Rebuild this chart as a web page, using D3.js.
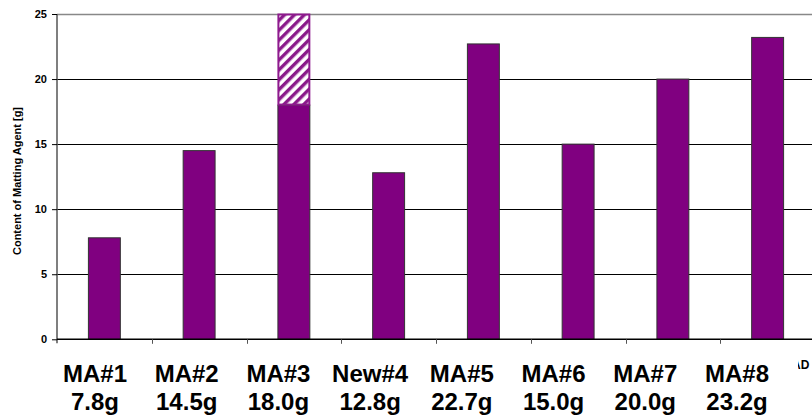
<!DOCTYPE html>
<html>
<head>
<meta charset="utf-8">
<script src="https://cdn.jsdelivr.net/npm/d3@7"></script>
<style>
  html, body { margin: 0; padding: 0; background: #fff; }
  svg { display: block; font-family: Arial, "Liberation Sans", sans-serif; }
</style>
</head>
<body>
<svg id="chart" width="812" height="416"></svg>
<script>
// Matting agent content per sample
const categories = ["MA#1", "MA#2", "MA#3", "New#4", "MA#5", "MA#6", "MA#7", "MA#8"];
const contents = [7.8, 14.5, 18.0, 12.8, 22.7, 15.0, 20.0, 23.2];
// Extra amount beyond the measured value, drawn hatched on top (MA#3 only)
const extraTop = [0, 0, 25, 0, 0, 0, 0, 0];
const amountLabels = ["7.8g", "14.5g", "18.0g", "12.8g", "22.7g", "15.0g", "20.0g", "23.2g"];
const yTicks = [0, 5, 10, 15, 20, 25];
const yTitle = "Content of Matting Agent [g]";

const svg = d3.select("#chart");
const purple = "#800080";

const plot = { left: 57, right: 815, top: 14, bottom: 339.3 };

const x = d3.scaleBand().domain(categories).range([plot.left, plot.right]).padding(0);
const y = d3.scaleLinear().domain([0, 25]).range([plot.bottom, plot.top]);
const barW = x.bandwidth() * 0.337;

// Diagonal hatch pattern for the extra segment
const defs = svg.append("defs");
const pat = defs.append("pattern")
  .attr("id", "hatch")
  .attr("patternUnits", "userSpaceOnUse")
  .attr("width", 7).attr("height", 7)
  .attr("patternTransform", "rotate(45)");
pat.append("rect").attr("width", 7).attr("height", 7).attr("fill", "#fff");
pat.append("rect").attr("width", 3.4).attr("height", 7).attr("fill", "#8a1a8a");

defs.append("clipPath").attr("id", "rightClip")
  .append("rect").attr("x", 798).attr("y", 340).attr("width", 40).attr("height", 40);

// Gridlines
svg.append("g")
  .selectAll("line")
  .data(yTicks.filter(d => d > 0))
  .join("line")
  .attr("x1", plot.left).attr("x2", plot.right)
  .attr("y1", d => Math.round(y(d)) + 0.5).attr("y2", d => Math.round(y(d)) + 0.5)
  .attr("stroke", d => d === 25 ? "#888" : "#000")
  .attr("stroke-width", d => d === 25 ? 1.5 : 1);

// Bars
svg.append("g")
  .selectAll("rect")
  .data(categories)
  .join("rect")
  .attr("x", (d) => x(d) + (x.bandwidth() - barW) / 2)
  .attr("y", (d, i) => y(contents[i]))
  .attr("width", barW)
  .attr("height", (d, i) => y(0) - y(contents[i]))
  .attr("fill", purple)
  .attr("stroke", "#333")
  .attr("stroke-width", 1);

// Hatched extra segments
svg.append("g")
  .selectAll("rect")
  .data(categories.filter((d, i) => extraTop[i] > 0))
  .join("rect")
  .attr("x", d => x(d) + (x.bandwidth() - barW) / 2 + 0.5)
  .attr("y", d => y(extraTop[categories.indexOf(d)]) + 0.5)
  .attr("width", barW - 1)
  .attr("height", d => y(contents[categories.indexOf(d)]) - y(extraTop[categories.indexOf(d)]) - 1)
  .attr("fill", "url(#hatch)")
  .attr("stroke", "#8e1a8e")
  .attr("stroke-width", 2);

// Y axis
const yAxis = svg.append("g")
  .attr("transform", `translate(${plot.left},0)`)
  .call(d3.axisLeft(y).tickValues(yTicks).tickSize(5).tickSizeOuter(0).tickPadding(5));
yAxis.select(".domain").attr("stroke", "#555").attr("stroke-width", 1.5)
  .attr("d", `M0,${plot.top}V${plot.bottom + 4}`);
yAxis.selectAll(".tick line").attr("stroke", "#000");
yAxis.selectAll(".tick text")
  .attr("font-size", 11).attr("font-weight", "bold").attr("fill", "#000")
  .attr("font-family", "Arial, 'Liberation Sans', sans-serif");

// X axis: baseline with ticks at category boundaries
const xAxis = svg.append("g");
xAxis.append("line")
  .attr("x1", plot.left).attr("x2", plot.right)
  .attr("y1", plot.bottom).attr("y2", plot.bottom)
  .attr("stroke", "#000").attr("stroke-width", 1.5);
xAxis.selectAll("line.tk")
  .data(categories.slice(1))
  .join("line")
  .attr("class", "tk")
  .attr("x1", d => Math.round(x(d)) + 0.5).attr("x2", d => Math.round(x(d)) + 0.5)
  .attr("y1", plot.bottom).attr("y2", plot.bottom + 4.5)
  .attr("stroke", "#555");

// Y title
svg.append("text")
  .attr("transform", `translate(21,181) rotate(-90)`)
  .attr("text-anchor", "middle")
  .attr("font-size", 11).attr("font-weight", "bold")
  .text(yTitle);

// Category captions below the chart
const cap = d3.scalePoint().domain(categories).range([95, 737]);
const caption = svg.append("g");
caption.selectAll("text.name")
  .data(categories)
  .join("text")
  .attr("class", "name")
  .attr("x", d => cap(d)).attr("y", 381.5)
  .attr("text-anchor", "middle")
  .attr("font-size", 24).attr("font-weight", "bold")
  .text(d => d);
caption.selectAll("text.amt")
  .data(amountLabels)
  .join("text")
  .attr("class", "amt")
  .attr("x", (d, i) => cap(categories[i])).attr("y", 410)
  .attr("text-anchor", "middle")
  .attr("font-size", 24).attr("font-weight", "bold")
  .text(d => d);

// Partly hidden axis caption at the right edge
svg.append("text")
  .attr("clip-path", "url(#rightClip)")
  .attr("x", 792).attr("y", 369)
  .attr("font-size", 12).attr("font-weight", "bold")
  .text("AD");
</script>
</body>
</html>
